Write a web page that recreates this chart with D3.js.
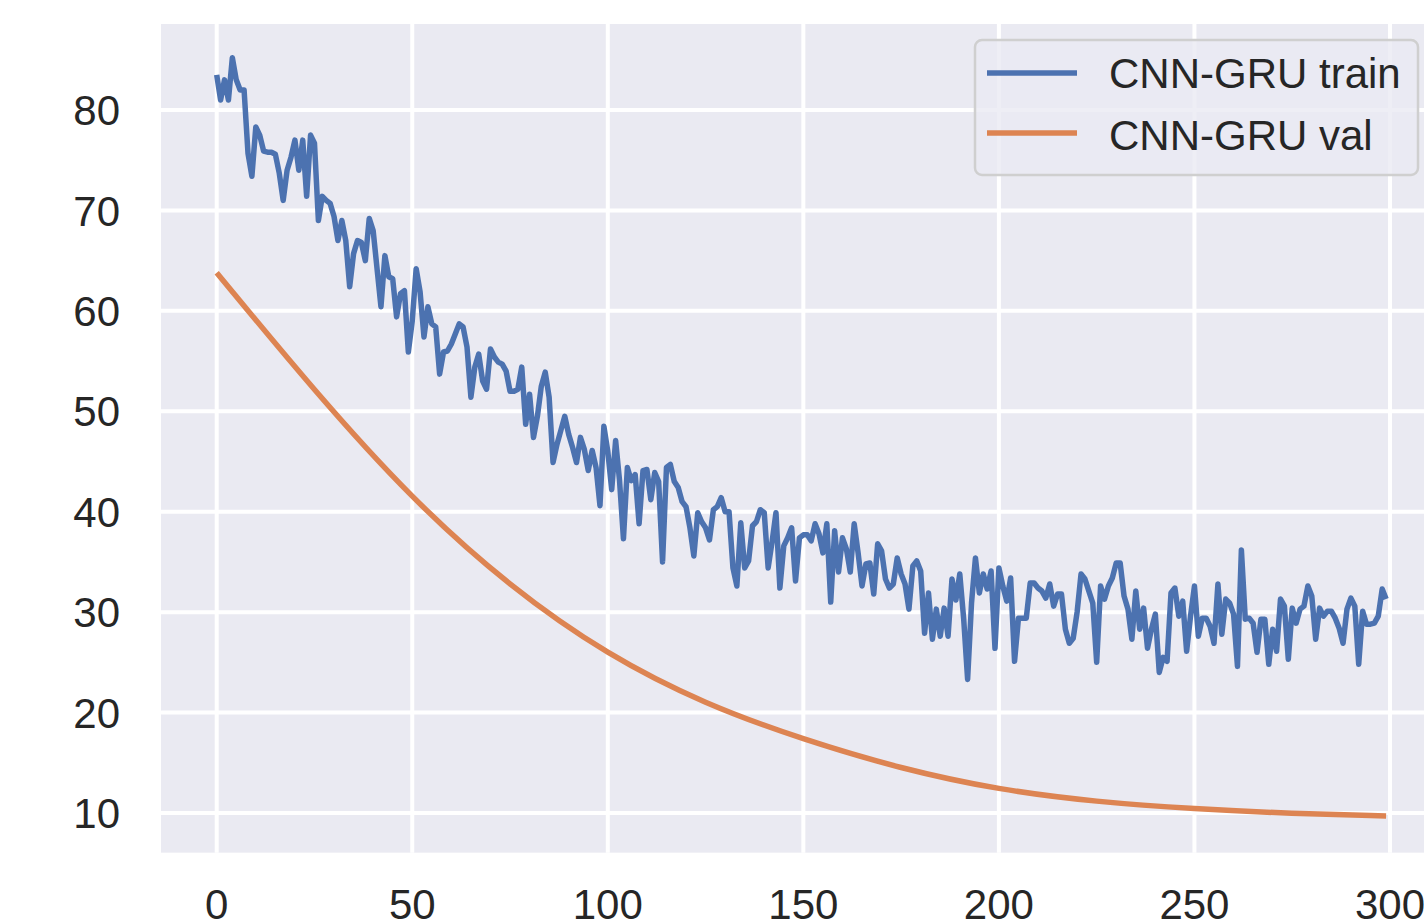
<!DOCTYPE html>
<html>
<head>
<meta charset="utf-8">
<script src="https://cdn.jsdelivr.net/npm/d3@7"></script>
<style>
  body{margin:0;background:#fff;}
  svg{display:block;}
</style>
</head>
<body>
<div id="chart"></div>
<script>
// training loss per epoch
const trainLoss=[
83.5,81,83,81,85.2,83,82,82,75.7,73.4,
78.3,77.5,75.9,75.8,75.8,75.6,73.7,71,74,75.3,
77,74,77,71.4,77.5,76.7,69,71.4,71,70.7,
69.4,67,69,67,62.4,65.7,67,66.8,65,69.2,
68,64.2,60.4,65.5,63.4,63.2,59.4,61.7,62,55.9,
59,64.2,61.9,57.4,60.4,58.7,58.4,53.7,55.9,56,
56.7,57.7,58.7,58.4,56.4,51.4,54.4,55.7,53,52.2,
56.2,55.4,54.9,54.7,54,52,52,52.2,54.4,48.7,
51.7,47.4,49.5,52.5,53.9,51.4,44.9,46.7,48.1,49.5,
47.7,46.4,44.9,47.4,46.2,44.1,46.1,44.4,40.6,48.5,
46,42.2,47.1,43.1,37.3,44.4,43.1,43.7,38.8,44.1,
44.2,41.2,43.9,43,35,44.4,44.7,43,42.4,41,
40.5,38.4,35.6,39.9,39,38.4,37.2,40.2,40.5,41.4,
40,40,34.4,32.6,38.9,34.4,35.1,38.6,39,40.2,
39.9,34.4,37,39.9,32.4,36.6,37.4,38.4,33.1,37.4,
37.7,37.7,37.1,38.8,37.8,35.9,38.8,31,38.1,34,
37.4,36.3,34,38.8,35.9,32.6,34.8,34.9,31.8,36.8,
36.1,33.3,32.4,32.8,35.4,33.8,32.8,30.3,34.6,35.1,
34.1,27.9,31.9,27.3,30.3,27.6,30.4,27.6,33.3,31.2,
33.8,29.3,23.3,30.9,35.4,31.9,33.8,32.3,34.1,26.4,
34.4,32.6,31.1,33.4,25.1,29.4,29.4,29.4,32.9,32.9,
32.4,32.1,31.4,32.8,30.6,31.8,31.8,28.3,26.9,27.4,
30,33.8,33.3,32.1,30.9,25,32.6,31.3,32.6,33.4,
34.9,34.9,31.6,30.3,27.3,32.1,28.3,30.4,26.4,28.3,
29.8,24,25.5,25.1,31.9,32.4,29.6,31.1,26.1,29.6,
32.6,27.6,29.4,29.4,28.6,26.9,32.8,27.8,31.3,30.9,
29.8,24.6,36.2,29.3,29.4,28.9,26,29.3,29.3,24.8,
28.3,26.1,31.3,30.6,25.3,30.4,28.9,30.3,30.6,32.6,
31.6,27.3,30.4,29.6,30.1,30.1,29.4,28.4,26.9,30.3,
31.4,30.6,24.8,30.1,28.8,28.8,28.9,29.6,32.3,31.3
];

// validation curve is smooth, read at these epochs
const valEpochs=[0,25,50,75,100,125,150,175,200,225,250,275,299];
const valLoss=[63.8,52.0,41.2,32.5,25.7,20.8,17.3,14.4,12.3,11.1,10.4,9.95,9.7];

const xTicks=[0,50,100,150,200,250,300];
const yTicks=[10,20,30,40,50,60,70,80];
const seriesNames=["CNN-GRU train","CNN-GRU val"];
const colors=["#4C72B0","#DD8452"];

let width=1424;
let height=921;
let font="'Liberation Sans', Arial, sans-serif";

let xScale=d3.scaleLinear().domain([0,300]).range([216.7,1390]);
let yScale=d3.scaleLinear().domain([10,80]).range([813,110]);

let xMin=-14.24, xMax=314.24;
let yMin=6.05, yMax=88.56;

var svg=d3.select("#chart")
  .append("svg")
  .attr("width",width)
  .attr("height",height);

svg.append("rect")
  .attr("width",width)
  .attr("height",height)
  .attr("fill","#fff");

// axes background
svg.append("rect")
  .attr("x",xScale(xMin))
  .attr("y",yScale(yMax))
  .attr("width",xScale(xMax)-xScale(xMin))
  .attr("height",yScale(yMin)-yScale(yMax))
  .attr("fill","#EAEAF2");

// grid
var grid=svg.append("g").attr("stroke","#fff").attr("stroke-width",4);
grid.selectAll(".vx")
  .data(xTicks)
  .enter()
  .append("line")
  .attr("x1",d=>xScale(d))
  .attr("x2",d=>xScale(d))
  .attr("y1",yScale(yMax))
  .attr("y2",yScale(yMin));
grid.selectAll(".hy")
  .data(yTicks)
  .enter()
  .append("line")
  .attr("y1",d=>yScale(d))
  .attr("y2",d=>yScale(d))
  .attr("x1",xScale(xMin))
  .attr("x2",xScale(xMax));

// tick labels
svg.append("g")
  .selectAll("text")
  .data(xTicks)
  .enter()
  .append("text")
  .attr("x",d=>xScale(d))
  .attr("y",919)
  .attr("text-anchor","middle")
  .attr("font-family",font)
  .attr("font-size",42)
  .attr("fill","#262626")
  .text(d=>d);

svg.append("g")
  .selectAll("text")
  .data(yTicks)
  .enter()
  .append("text")
  .attr("x",120)
  .attr("y",d=>yScale(d))
  .attr("dy","0.36em")
  .attr("text-anchor","end")
  .attr("font-family",font)
  .attr("font-size",42)
  .attr("fill","#262626")
  .text(d=>d);

// lines
var trainLine=d3.line()
  .x((d,i)=>xScale(i))
  .y(d=>yScale(d));

var valLine=d3.line()
  .x((d,i)=>xScale(valEpochs[i]))
  .y(d=>yScale(d))
  .curve(d3.curveBasis);

svg.append("path")
  .datum(trainLoss)
  .attr("d",trainLine)
  .attr("fill","none")
  .attr("stroke",colors[0])
  .attr("stroke-width",5.5)
  .attr("stroke-linejoin","round");

svg.append("path")
  .datum(valLoss)
  .attr("d",valLine)
  .attr("fill","none")
  .attr("stroke",colors[1])
  .attr("stroke-width",5.5);

// legend
var legend=svg.append("g");
legend.append("rect")
  .attr("x",975)
  .attr("y",40)
  .attr("width",443)
  .attr("height",135)
  .attr("rx",7)
  .attr("fill","#EAEAF2")
  .attr("fill-opacity",0.8)
  .attr("stroke","#cfcfcf")
  .attr("stroke-width",2.5);

seriesNames.forEach((name,i)=>{
  let cy=73+i*60;
  legend.append("line")
    .attr("x1",987)
    .attr("x2",1077)
    .attr("y1",cy)
    .attr("y2",cy)
    .attr("stroke",colors[i])
    .attr("stroke-width",5.5);
  legend.append("text")
    .attr("x",1109)
    .attr("y",cy+15+i*2)
    .attr("font-family",font)
    .attr("font-size",42)
    .attr("fill","#262626")
    .text(name);
});
</script>
</body>
</html>
